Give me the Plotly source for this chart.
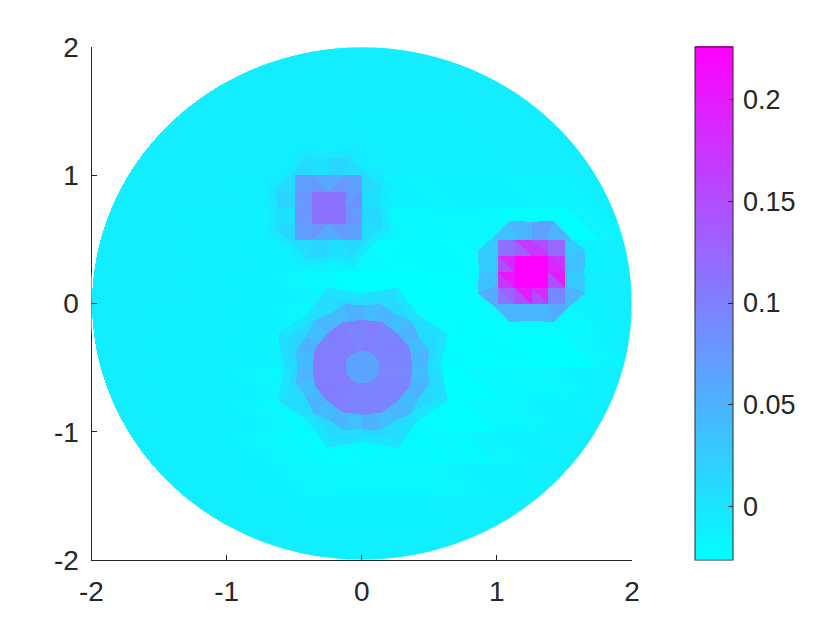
import numpy as np
import plotly.graph_objects as go

AXIS_TICKS = [-2, -1, 0, 1, 2]
AXIS_LABELS = ["-2", "-1", "0", "1", "2"]
CBAR_TICKS = [0, 0.05, 0.1, 0.15, 0.2]
CBAR_LABELS = ["0", "0.05", "0.1", "0.15", "0.2"]
Z_MIN, Z_MAX = -0.026, 0.226

# background element values (x 0.001), rows y=2 -> -2, cols x=-2 -> 2, step 0.25
BACKGROUND = [
    [-8, -8, -8, -8, -8, -8, -8, -8, -8, -8, -8, -8, -8, -8, -8, -8],
    [-8, -8, -8, -8, -8, -8, -9, -9, -9, -9, -9, -8, -8, -8, -8, -8],
    [-8, -8, -8, -8, -9, -9, -9, -10, -10, -10, -10, -9, -9, -8, -8, -8],
    [-8, -8, -9, -9, -9, -10, -10, -9, -10, -11, -10, -10, -9, -8, -8, -8],
    [-8, -8, -9, -10, -10, -11, -11, -11, -14, -16, -14, -13, -15, -15, -10, -8],
    [-8, -9, -10, -11, -12, -13, -13, -14, -18, -20, -18, -19, -25, -26, -16, -9],
    [-8, -9, -10, -11, -13, -14, -17, -19, -22, -21, -22, -19, -14, -14, -12, -9],
    [-8, -9, -11, -12, -14, -15, -20, -25, -26, -25, -24, -20, -13, -11, -10, -8],
    [-8, -10, -11, -12, -14, -16, -20, -21, -21, -22, -24, -22, -22, -20, -13, -9],
    [-8, -10, -11, -12, -14, -17, -21, -20, -20, -21, -24, -22, -25, -25, -16, -10],
    [-9, -10, -11, -12, -15, -19, -22, -20, -20, -22, -25, -20, -18, -16, -12, -9],
    [-9, -10, -11, -12, -15, -20, -22, -20, -20, -22, -24, -18, -15, -13, -10, -8],
    [-8, -10, -11, -12, -15, -19, -22, -20, -20, -21, -20, -16, -13, -11, -9, -8],
    [-8, -9, -10, -11, -13, -15, -17, -18, -18, -17, -15, -13, -12, -10, -8, -8],
    [-8, -8, -9, -10, -11, -12, -13, -13, -13, -12, -11, -11, -10, -9, -8, -8],
    [-8, -8, -8, -8, -9, -10, -10, -10, -10, -10, -9, -9, -8, -8, -8, -8],
]

# round blob at (0, -0.5)
ROUND_CENTER = (0.0, -0.5)
ROUND_OUTER = [2, 6, 1, 7, 2, 6, 1, 8, 2, 7, 1, 6, 2, 6, 1, 7]
ROUND_SHOULDER = [12, 8, 13, 9, 12, 8, 14, 10, 12, 8, 13, 9, 12, 8, 13, 10]
ROUND_MID = [48, 40, 50, 38, 46, 40, 52, 42, 46, 38, 50, 40, 46, 38, 48, 42,
             46, 36, 50, 38, 46, 40, 50, 42]
ROUND_INNER = [96, 99, 97, 100, 98, 102, 100, 104, 102, 104, 100, 98, 98, 96, 97, 95]
ROUND_CORE = [65] * 16

# square blob at (-0.25, 0.75): 4x4 sub-squares, two triangles each
LEFT_CENTER = (-0.25, 0.75)
LEFT_FRINGE = [-5, -3, -6, -2, -5, -3, -6, -2, -5, -3, -6, -2, -5, -3, -6, -2]
LEFT_HALO = [4, 12, 7, 15, 5, 12, 7, 15, 4, 14, 9, 14, 4, 12, 7, 14]
LEFT_UPPER = [[68, 58, 58, 68], [80, 113, 113, 72], [80, 113, 113, 72], [68, 80, 78, 68]]
LEFT_LOWER = [[68, 78, 78, 68], [74, 113, 113, 82], [74, 113, 113, 82], [68, 58, 58, 68]]
LEFT_DIAG = ["/\\/\\", "\\/\\/", "/\\/\\", "\\/\\/"]

# square blob at (1.25, 0.25)
RIGHT_CENTER = (1.25, 0.25)
RIGHT_HALO = [36, 26, 46, 66, 46, 36, 26, 26, 36, 56, 46, 46, 46, 56, 46, 26]
RIGHT_UPPER = [[118, 170, 150, 125], [190, 226, 226, 175], [205, 226, 226, 200], [130, 200, 185, 96]]
RIGHT_LOWER = [[112, 130, 170, 120], [150, 226, 226, 190], [175, 226, 226, 150], [110, 150, 150, 90]]
RIGHT_DIAG = ["\\\\\\\\", "\\\\\\\\", "\\\\\\\\", "\\\\\\\\"]

NX, NY = 541, 514
x = -2 + (np.arange(NX) + 0.5) * 4 / NX
y = -2 + (np.arange(NY) + 0.5) * 4 / NY
X, Y = np.meshgrid(x, y)

bg = np.array(BACKGROUND) / 1000.0
u = (X + 2) / 0.25
v = (2 - Y) / 0.25
col = np.clip(u.astype(int), 0, 15)
row = np.clip(v.astype(int), 0, 15)
fu, fv = u - col, v - row
left_col = np.clip(col - 1, 0, 15)
Z = np.where(fv > fu, bg[row, left_col], bg[row, col])


def paint_star(center, valley, tip, values):
    """Faceted ring with a straight zig-zag outline, one value per sector."""
    dx, dy = X - center[0], Y - center[1]
    r = np.hypot(dx, dy)
    a = np.mod(np.arctan2(dy, dx), 2 * np.pi)
    n = len(values)
    s = a / (2 * np.pi) * n
    k = np.mod(s.astype(int), n)
    delta = 2 * np.pi / n
    phase = np.mod(s, 2)
    # angle measured from the nearest tip (tips on even sector boundaries)
    phi = np.where(phase <= 1, phase, 2 - phase) * delta
    outline = tip * valley * np.sin(delta) / (valley * np.sin(phi) + tip * np.sin(delta - phi))
    mask = r <= outline
    Z[mask] = (np.array(values) / 1000.0)[k][mask]


def paint_square(center, upper, lower, diag):
    u_ = (X - center[0] + 0.25) / 0.125
    v_ = (center[1] + 0.25 - Y) / 0.125
    mask = (u_ >= 0) & (u_ < 4) & (v_ >= 0) & (v_ < 4)
    ci, ri = u_[mask].astype(int), v_[mask].astype(int)
    fx, fy = u_[mask] - ci, v_[mask] - ri
    up, lo = np.array(upper) / 1000.0, np.array(lower) / 1000.0
    is_back = np.array([[c == "\\" for c in line] for line in diag])[ri, ci]
    in_upper = np.where(is_back, fy < fx, fx + fy < 1)
    Z[mask] = np.where(in_upper, up[ri, ci], lo[ri, ci])


paint_star(ROUND_CENTER, 0.58, 0.68, ROUND_OUTER)
paint_star(ROUND_CENTER, 0.52, 0.60, ROUND_SHOULDER)
paint_star(ROUND_CENTER, 0.48, 0.51, ROUND_MID)
paint_star(ROUND_CENTER, 0.37, 0.38, ROUND_INNER)
paint_star(ROUND_CENTER, 0.125, 0.13, ROUND_CORE)

paint_star(LEFT_CENTER, 0.43, 0.50, LEFT_FRINGE)
paint_star(LEFT_CENTER, 0.38, 0.43, LEFT_HALO)
paint_square(LEFT_CENTER, LEFT_UPPER, LEFT_LOWER, LEFT_DIAG)

paint_star(RIGHT_CENTER, 0.39, 0.43, RIGHT_HALO)
paint_square(RIGHT_CENTER, RIGHT_UPPER, RIGHT_LOWER, RIGHT_DIAG)

Z[X ** 2 + Y ** 2 > 4] = np.nan

INK = "#262626"
FONT = dict(family="Liberation Sans, Arial, sans-serif", size=28, color=INK)
BAR_GEOMETRY = dict(
    x=695 / 840, xanchor="left", xpad=0,
    y=(630 - 559.5) / 630, yanchor="bottom", ypad=0,
    len=(559.5 - 47) / 630, lenmode="fraction",
    thickness=38, thicknessmode="pixels",
    tickmode="array", tickvals=CBAR_TICKS, ticktext=CBAR_LABELS,
)

fig = go.Figure()
fig.add_trace(
    go.Heatmap(
        x=x, y=y, z=Z,
        zmin=Z_MIN, zmax=Z_MAX,
        colorscale=[[0, "#00ffff"], [1, "#ff00ff"]],
        hoverongaps=False,
        colorbar=dict(
            BAR_GEOMETRY, outlinewidth=0,
            ticks="outside", ticklen=5, tickwidth=1, tickcolor="rgba(0,0,0,0)",
            tickfont=dict(FONT, size=27),
        ),
    )
)
# transparent second bar: carries the inward ticks and the outline of the first
fig.add_trace(
    go.Heatmap(
        x=[0], y=[0], z=[[0]],
        zmin=Z_MIN, zmax=Z_MAX,
        colorscale=[[0, "rgba(0,0,0,0)"], [1, "rgba(0,0,0,0)"]],
        hoverinfo="skip",
        colorbar=dict(
            BAR_GEOMETRY, outlinecolor=INK, outlinewidth=1,
            ticks="inside", ticklen=5, tickwidth=1, tickcolor=INK,
            showticklabels=False,
        ),
    )
)
axis = dict(
    range=[-2, 2], tickmode="array", tickvals=AXIS_TICKS, ticktext=AXIS_LABELS,
    ticks="inside", ticklen=5, tickwidth=1, tickcolor=INK,
    showline=True, linecolor=INK, linewidth=1, showgrid=False, zeroline=False,
    tickfont=FONT, ticklabelstandoff=6, automargin=False,
)
fig.update_layout(
    width=840, height=630, autosize=False,
    margin=dict(l=0, r=0, t=0, b=0, autoexpand=False),
    paper_bgcolor="white", plot_bgcolor="white",
    xaxis=dict(axis, domain=[91.5 / 840, 632 / 840], anchor="y"),
    yaxis=dict(axis, domain=[(630 - 560) / 630, (630 - 47) / 630], anchor="x"),
    shapes=[dict(
        type="circle", xref="x", yref="y", layer="above",
        x0=-2.0052, x1=2.0052, y0=-2.0055, y1=2.0055,
        line=dict(color="white", width=2), fillcolor="rgba(0,0,0,0)",
    )],
)
fig.write_html("out.html", config={"displayModeBar": False},
               post_script="document.body.style.margin='0';")
